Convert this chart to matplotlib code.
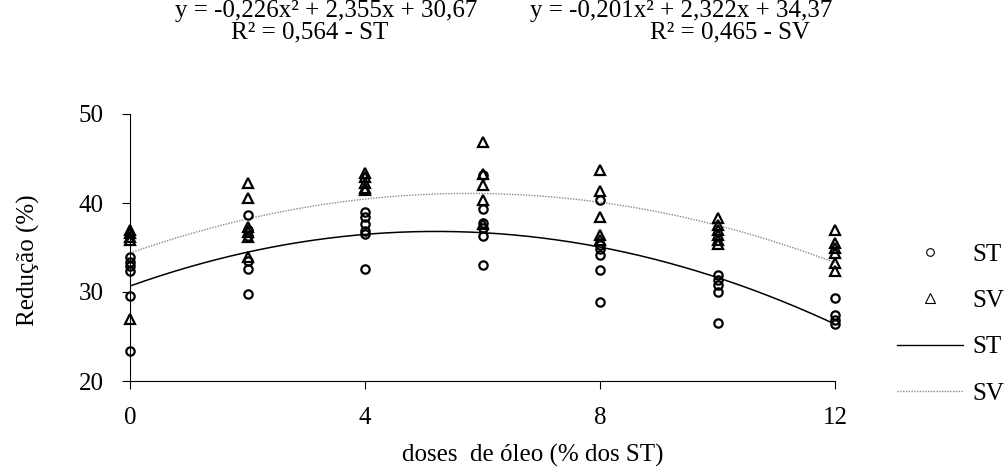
import numpy as np
import matplotlib
matplotlib.use('Agg')
import matplotlib.pyplot as plt
from matplotlib.lines import Line2D

plt.rcParams['font.family'] = ['Liberation Serif', 'DejaVu Serif']
fs = 18

# doses de oleo (% dos ST)
doses = [0, 2, 4, 6, 8, 10, 12]

# reducao (%) - solidos totais (ST)
st_vals = [
    [33.9, 33.4, 32.9, 32.4, 29.6, 23.4],
    [38.7, 37.0, 36.3, 33.5, 32.6, 29.8],
    [39.0, 38.4, 37.6, 36.8, 36.5, 32.6],
    [43.2, 39.3, 37.7, 37.2, 36.3, 33.0],
    [40.3, 35.3, 34.8, 34.2, 32.5, 28.9],
    [31.9, 31.3, 30.8, 30.0, 26.5],
    [29.3, 27.4, 26.9, 26.4],
]

# reducao (%) - solidos volateis (SV)
sv_vals = [
    [37.0, 36.6, 36.2, 35.8, 27.0],
    [42.2, 40.6, 37.3, 36.7, 36.2, 33.9],
    [43.4, 42.9, 42.3, 41.7, 41.5],
    [46.9, 43.3, 42.0, 40.3, 37.6],
    [43.7, 41.3, 38.4, 36.4, 35.8],
    [38.3, 37.5, 37.0, 36.4, 35.8, 35.4],
    [37.0, 35.5, 34.9, 34.4, 33.3, 32.4],
]

# regression coefficients (a, b, c) for y = a x^2 + b x + c
st_coef = (-0.226, 2.355, 30.67)
sv_coef = (-0.201, 2.322, 34.37)

eq_st = ['y = -0,226x² + 2,355x + 30,67', 'R² = 0,564 - ST']
eq_sv = ['y = -0,201x² + 2,322x + 34,37', 'R² = 0,465 - SV']

fig = plt.figure(figsize=(10.06, 4.74), dpi=100)
ax = fig.add_axes([130 / 1006, 1 - 381 / 474, 705 / 1006, 267 / 474])

for d, ys in zip(doses, st_vals):
    ax.plot([d] * len(ys), ys, 'o', ms=6, mfc='none', mec='black', mew=1.6,
            clip_on=False, zorder=3)
for d, ys in zip(doses, sv_vals):
    ax.plot([d] * len(ys), ys, '^', ms=7, mfc='none', mec='black', mew=1.6,
            clip_on=False, zorder=3)

xx = np.linspace(0, 12, 200)
ax.plot(xx, np.polyval(st_coef, xx), color='black', lw=1.1)
ax.plot(xx, np.polyval(sv_coef, xx), color='#888888', lw=1.0, ls=(0, (1, 1)))

ax.set_xlim(0, 12)
ax.set_ylim(20, 50)
ax.set_xticks([0, 4, 8, 12])
ax.set_yticks([20, 30, 40, 50])
ax.spines['top'].set_visible(False)
ax.spines['right'].set_visible(False)
ax.tick_params(labelsize=fs, length=6, direction='out')
ax.tick_params(axis='x', pad=13)
ax.tick_params(axis='y', pad=13)

fig.text(533 / 1006, 1 - 455 / 474, 'doses  de óleo (% dos ST)', fontsize=fs,
         ha='center', va='center')
fig.text(28 / 1006, 1 - 260 / 474, 'Redução (%)', fontsize=fs, rotation=90,
         ha='center', va='center')

# equations
fig.text(477 / 1006, 1 - 17 / 474, eq_st[0], fontsize=fs, va='baseline', ha='right')
fig.text(310 / 1006, 1 - 38 / 474, eq_st[1], fontsize=fs, va='baseline', ha='center')
fig.text(530 / 1006, 1 - 17 / 474, eq_sv[0], fontsize=fs, va='baseline', ha='left')
fig.text(730 / 1006, 1 - 38 / 474, eq_sv[1], fontsize=fs, va='baseline', ha='center')

handles = [
    Line2D([], [], ls='none', marker='o', ms=5.5, mfc='white', mec='black', mew=0.8),
    Line2D([], [], ls='none', marker='^', ms=6.5, mfc='white', mec='black', mew=0.8),
    Line2D([], [], color='black', lw=1.0),
    Line2D([], [], color='#888888', lw=1.0, ls=(0, (1, 1))),
]
fig.legend(handles, ['ST', 'SV', 'ST', 'SV'], loc='center left',
           bbox_to_anchor=(887 / 1006, 1 - 324 / 474), frameon=False,
           fontsize=fs, handlelength=2.64, handletextpad=0.36, labelspacing=0.95,
           borderaxespad=0)

fig.savefig('out.png', dpi=100)
